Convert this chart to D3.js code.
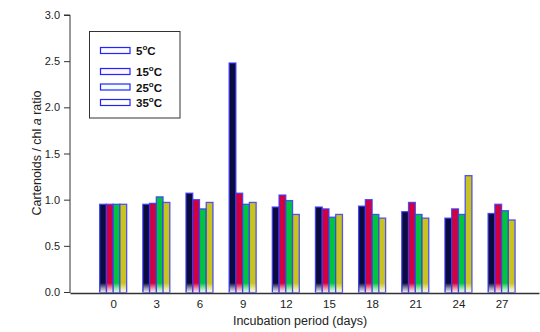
<!DOCTYPE html>
<html>
<head>
<meta charset="utf-8">
<script src="https://cdn.jsdelivr.net/npm/d3@7"></script>
<style>
  body { margin: 0; background: #fff; }
  text { font-family: "Liberation Sans", Arial, sans-serif; }
</style>
</head>
<body>
<svg id="chart" width="540" height="332"></svg>
<script>
// data
const days = [0, 3, 6, 9, 12, 15, 18, 21, 24, 27];
const series = ["5", "15", "25", "35"];
const t5  = [0.95, 0.95, 1.07, 2.48, 0.92, 0.92, 0.93, 0.87, 0.80, 0.85];
const t15 = [0.95, 0.96, 1.00, 1.07, 1.05, 0.90, 1.00, 0.97, 0.90, 0.95];
const t25 = [0.95, 1.03, 0.90, 0.95, 0.99, 0.81, 0.84, 0.84, 0.84, 0.88];
const t35 = [0.95, 0.97, 0.97, 0.97, 0.84, 0.84, 0.80, 0.80, 1.26, 0.78];
const yTicks = [0, 0.5, 1.0, 1.5, 2.0, 2.5, 3.0];
const colors = ["#0b0b3d", "#d2003c", "#00c43c", "#c8c31e"];

const values = [t5, t15, t25, t35];

const svg = d3.select("#chart");

const x = d3.scaleLinear().domain([-3, 29.6]).range([70, 539]);
const x1 = d3.scaleBand().domain(series).range([-13.5, 13.5]);
const y = d3.scaleLinear().domain([0, 3]).range([292, 15]);

// bottom fade gradient
const defs = svg.append("defs");
const grad = defs.append("linearGradient")
  .attr("id", "fade").attr("x1", 0).attr("y1", 0).attr("x2", 0).attr("y2", 1);
grad.append("stop").attr("offset", "0%").attr("stop-color", "#fff").attr("stop-opacity", 0);
grad.append("stop").attr("offset", "60%").attr("stop-color", "#fff").attr("stop-opacity", 0.6);
grad.append("stop").attr("offset", "100%").attr("stop-color", "#fff").attr("stop-opacity", 0.9);

// bars
const groups = svg.append("g").selectAll("g")
  .data(days)
  .join("g")
  .attr("transform", d => "translate(" + x(d) + ",0)");

groups.selectAll("rect.bar")
  .data((d, i) => series.map((s, j) => ({ s: s, v: values[j][i], c: colors[j] })))
  .join("rect")
  .attr("class", "bar")
  .attr("x", d => x1(d.s))
  .attr("y", d => y(d.v))
  .attr("width", x1.bandwidth())
  .attr("height", d => y(0) - y(d.v))
  .attr("fill", d => d.c)
  .attr("stroke", "#3a3aff")
  .attr("stroke-opacity", 0.85)
  .attr("stroke-width", 1.3);

groups.selectAll("rect.fade")
  .data(series)
  .join("rect")
  .attr("class", "fade")
  .attr("x", d => x1(d) + 0.7)
  .attr("y", y(0) - 9)
  .attr("width", x1.bandwidth() - 1.4)
  .attr("height", 9)
  .attr("fill", "url(#fade)");

// y axis
const yAxis = svg.append("g")
  .attr("transform", "translate(70,0)")
  .call(d3.axisLeft(y).tickValues(yTicks).tickFormat(d3.format(".1f")).tickSize(6).tickPadding(4));
yAxis.select(".domain").attr("stroke", "#333").attr("d", "M-6,15H0V293");
yAxis.selectAll("line").attr("stroke", "#333");
yAxis.selectAll("text").attr("font-size", 11).attr("fill", "#222")
  .style("font-family", "'Liberation Sans', Arial, sans-serif");

// x axis
const xAxis = svg.append("g")
  .attr("transform", "translate(0,293)")
  .call(d3.axisBottom(x).tickValues(days).tickSize(0).tickPadding(7));
xAxis.select(".domain").attr("stroke", "#333").attr("stroke-width", 1.3);
xAxis.selectAll("text").attr("font-size", 11.5).attr("fill", "#222")
  .style("font-family", "'Liberation Sans', Arial, sans-serif");

// axis titles
svg.append("text")
  .attr("x", 300).attr("y", 325)
  .attr("text-anchor", "middle")
  .attr("font-size", 12.5).attr("fill", "#222")
  .text("Incubation period (days)");

const yt = svg.append("text")
  .attr("transform", "translate(41,153) rotate(-90)")
  .attr("text-anchor", "middle")
  .attr("font-size", 12.5).attr("fill", "#222");
yt.append("tspan").text("Cartenoids / chl ");
yt.append("tspan").attr("font-style", "italic").text("a");
yt.append("tspan").text(" ratio");

// legend
const legend = svg.append("g");
legend.append("rect")
  .attr("x", 89.5).attr("y", 31.5).attr("width", 90.5).attr("height", 86.5)
  .attr("fill", "#fff").attr("stroke", "#333").attr("stroke-width", 1);

const legendY = d3.scaleOrdinal().domain(series).range([50.5, 71.5, 87, 102.5]);
const swatchFill = ["#fbfbff", "#fdf6ff", "#f2fdff", "#fffff4"];

const items = legend.selectAll("g.item")
  .data(series)
  .join("g")
  .attr("class", "item")
  .attr("transform", d => "translate(0," + legendY(d) + ")");

items.append("rect")
  .attr("x", 100.5).attr("y", -3).attr("width", 29.5).attr("height", 6)
  .attr("fill", (d, i) => swatchFill[i])
  .attr("stroke", "#2323ff").attr("stroke-width", 1.2);

const lt = items.append("text")
  .attr("x", 136).attr("y", 4.5)
  .attr("font-size", 11.5).attr("font-weight", "bold").attr("fill", "#111");
lt.append("tspan").text(d => d);
lt.append("tspan").attr("dy", -5).attr("font-size", 8).text("o");
lt.append("tspan").attr("dy", 5).text("C");
</script>
</body>
</html>
